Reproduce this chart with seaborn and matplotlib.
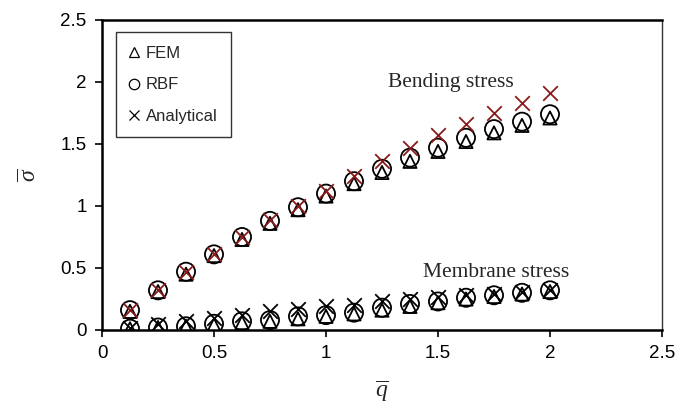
import matplotlib
matplotlib.use("Agg")
import matplotlib.pyplot as plt
from matplotlib.lines import Line2D
import seaborn as sns
import pandas as pd

q = [0.125, 0.25, 0.375, 0.5, 0.625, 0.75, 0.875, 1.0,
     1.125, 1.25, 1.375, 1.5, 1.625, 1.75, 1.875, 2.0]
fem_bending = [0.15, 0.31, 0.45, 0.60, 0.73, 0.86, 0.97, 1.08,
               1.18, 1.27, 1.36, 1.44, 1.52, 1.59, 1.65, 1.71]
rbf_bending = [0.16, 0.32, 0.47, 0.61, 0.75, 0.88, 0.99, 1.10,
               1.20, 1.30, 1.39, 1.47, 1.55, 1.62, 1.68, 1.74]
ana_bending = [0.16, 0.32, 0.47, 0.61, 0.75, 0.89, 1.00, 1.12,
               1.24, 1.36, 1.47, 1.57, 1.66, 1.75, 1.83, 1.91]
fem_membrane = [0.01, 0.02, 0.03, 0.04, 0.06, 0.07, 0.09, 0.11,
                0.13, 0.16, 0.19, 0.22, 0.25, 0.27, 0.29, 0.31]
rbf_membrane = [0.01, 0.02, 0.03, 0.05, 0.07, 0.08, 0.11, 0.12,
                0.14, 0.18, 0.21, 0.23, 0.26, 0.28, 0.30, 0.32]
ana_membrane = [0.02, 0.05, 0.07, 0.10, 0.12, 0.15, 0.17, 0.19,
                0.20, 0.23, 0.25, 0.27, 0.28, 0.29, 0.31, 0.32]
x_ticks = [0, 0.5, 1, 1.5, 2, 2.5]
y_ticks = [0, 0.5, 1, 1.5, 2, 2.5]
x_tick_labels = ["0", "0.5", "1", "1.5", "2", "2.5"]
y_tick_labels = ["0", "0.5", "1", "1.5", "2", "2.5"]

sns.set_style("ticks")
plt.rcParams['font.family'] = ['Liberation Sans', 'DejaVu Sans']
plt.rcParams['mathtext.fontset'] = 'custom'
plt.rcParams['mathtext.rm'] = 'Liberation Serif'
plt.rcParams['mathtext.it'] = 'Liberation Serif:italic'

fig = plt.figure(figsize=(6.89, 4.07), dpi=100)
ax = fig.add_axes([102/689, 77/407, 560/689, 310/407])

dark_red = "#8B1A1A"
df_b = pd.DataFrame({"q": q, "fem": fem_bending, "rbf": rbf_bending, "ana": ana_bending})
df_m = pd.DataFrame({"q": q, "fem": fem_membrane, "rbf": rbf_membrane, "ana": ana_membrane})

for df, xcol in [(df_b, dark_red), (df_m, "black")]:
    sns.scatterplot(data=df, x="q", y="fem", marker="^", s=90, facecolors="none",
                    edgecolor="black", linewidth=1.3, ax=ax, zorder=3)
    sns.scatterplot(data=df, x="q", y="rbf", marker="o", s=170, facecolors="none",
                    edgecolor="black", linewidth=1.3, ax=ax, zorder=4)
    sns.scatterplot(data=df, x="q", y="ana", marker="x", s=110, color=xcol,
                    linewidth=1.3, ax=ax, zorder=5)

ax.set_xlim(0, 2.5)
ax.set_ylim(0, 2.5)
ax.set_xticks(x_ticks)
ax.set_xticklabels(x_tick_labels)
ax.set_yticks(y_ticks)
ax.set_yticklabels(y_tick_labels)
ax.tick_params(axis="both", direction="out", length=5, width=1.2, labelsize=13.5,
               colors="black", pad=6)

for side in ["left", "bottom", "top"]:
    ax.spines[side].set_linewidth(1.8)
    ax.spines[side].set_color("black")
ax.spines["right"].set_linewidth(1.0)
ax.spines["right"].set_color("#333333")
ax.spines["right"].set_visible(True)
ax.spines["top"].set_visible(True)

ax.set_xlabel(r"$\overline{q}$", fontsize=17, labelpad=12)
ax.set_ylabel(r"$\overline{\sigma}$", fontsize=17, labelpad=14)

ax.text(1.277, 1.96, "Bending stress", fontsize=15.5, family="Liberation Serif",
        ha="left", va="baseline")
ax.text(1.433, 0.43, "Membrane stress", fontsize=15.5, family="Liberation Serif",
        ha="left", va="baseline")

handles = [
    Line2D([], [], linestyle="none", marker="^", markersize=7, markerfacecolor="none",
           markeredgecolor="black", markeredgewidth=0.9, label="FEM"),
    Line2D([], [], linestyle="none", marker="o", markersize=7.5, markerfacecolor="none",
           markeredgecolor="black", markeredgewidth=0.9, label="RBF"),
    Line2D([], [], linestyle="none", marker="x", markersize=7, markerfacecolor="none",
           markeredgecolor="black", markeredgewidth=0.9, label="Analytical"),
]
leg = ax.legend(handles=handles, loc="upper left", bbox_to_anchor=(0.025, 0.96),
                fontsize=12, frameon=True, fancybox=False, handlelength=0.6,
                handletextpad=0.4, labelspacing=1.0, borderpad=0.8, borderaxespad=0)
leg.get_frame().set_edgecolor("black")
leg.get_frame().set_linewidth(1.0)

fig.savefig("out.png", dpi=100)
